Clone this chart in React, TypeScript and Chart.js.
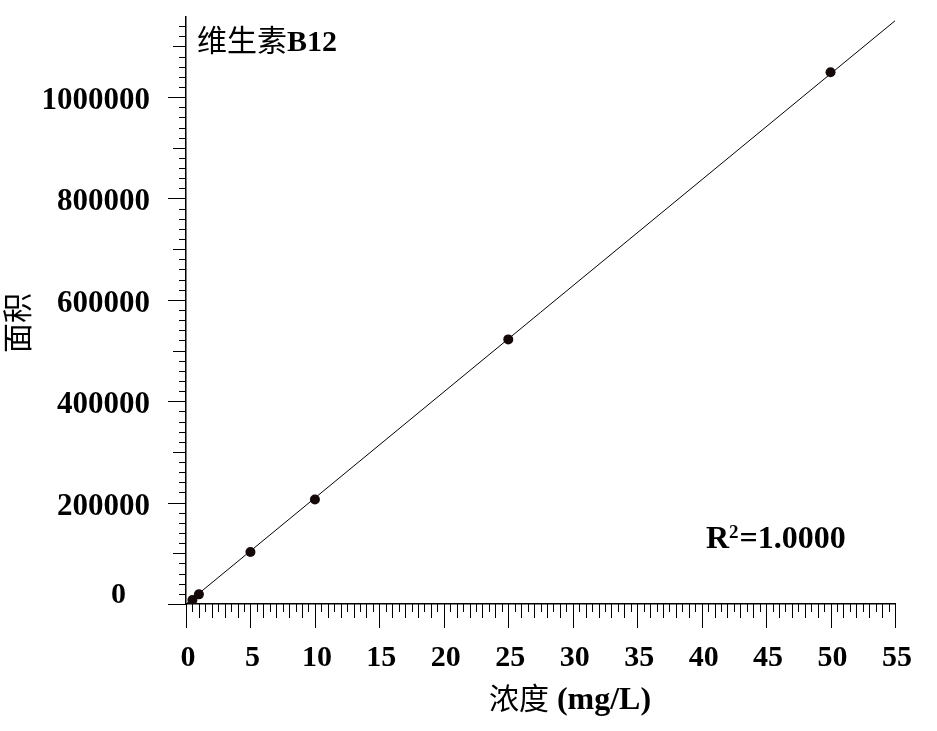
import React, { useEffect, useRef } from "react";
import { Chart, registerables } from "chart.js";

Chart.register(...registerables);

// ---- data ----
const concentrations = [0.5, 1, 5, 10, 25, 50];
const areas = [8000, 19000, 102600, 206000, 522000, 1049000];
const fitX = [0, 55];
const fitY = [0, 1150500];
const xTickValues = [0, 5, 10, 15, 20, 25, 30, 35, 40, 45, 50, 55];
const yTickValues = [0, 200000, 400000, 600000, 800000, 1000000];
const X_MIN = 0;
const X_MAX = 55;
const Y_MIN = 0;
const Y_MAX = 1158000;
const X_MINOR_STEP = 0.5;
const Y_MINOR_STEP = 20000;
const TITLE_CJK = "维生素";
const TITLE_LATIN = "B12";
const X_TITLE_CJK = "浓度";
const X_TITLE_LATIN = " (mg/L)";
const Y_TITLE = "面积";
const R2_TEXT = "=1.0000";

const SERIF = "'Liberation Serif', 'Times New Roman', serif";
const CJK = "'Noto Sans CJK SC', sans-serif";

const decorPlugin = {
  id: "decor",
  afterDraw(chart: any) {
    const ctx: CanvasRenderingContext2D = chart.ctx;
    const xs = chart.scales.x;
    const ys = chart.scales.y;
    const area = chart.chartArea;
    ctx.save();
    ctx.strokeStyle = "#000";
    ctx.lineWidth = 1;

    // x ticks (outward, below axis)
    const nx = Math.round((X_MAX - X_MIN) / X_MINOR_STEP);
    for (let i = 0; i <= nx; i++) {
      const v = X_MIN + i * X_MINOR_STEP;
      const px = Math.round(xs.getPixelForValue(v)) + 0.5;
      const len = v % 5 === 0 ? 24 : Number.isInteger(v) ? 14 : 8;
      ctx.beginPath();
      ctx.moveTo(px, area.bottom);
      ctx.lineTo(px, area.bottom + len);
      ctx.stroke();
    }
    // y ticks (outward, left of axis)
    for (let v = Y_MIN; v <= Y_MAX; v += Y_MINOR_STEP) {
      const py = Math.round(ys.getPixelForValue(v)) + 0.5;
      const len = v % 200000 === 0 ? 18 : v % 100000 === 0 ? 13 : 7;
      ctx.beginPath();
      ctx.moveTo(area.left, py);
      ctx.lineTo(area.left - len, py);
      ctx.stroke();
    }

    ctx.fillStyle = "#000";
    ctx.textBaseline = "alphabetic";
    ctx.textAlign = "left";

    // zero label of y axis
    ctx.font = `bold 30px ${SERIF}`;
    ctx.textAlign = "right";
    ctx.fillText("0", 126, ys.getPixelForValue(0) - 1);
    ctx.textAlign = "left";

    // title inside plot
    ctx.font = `30px ${CJK}`;
    let x0 = area.left + 11;
    ctx.fillText(TITLE_CJK, x0, 51);
    x0 += ctx.measureText(TITLE_CJK).width;
    ctx.font = `bold 30px ${SERIF}`;
    ctx.fillText(TITLE_LATIN, x0, 51);

    // R^2
    let rx = 706;
    const rb = 548;
    ctx.font = `bold 32px ${SERIF}`;
    ctx.fillText("R", rx, rb);
    rx += ctx.measureText("R").width;
    ctx.font = `bold 19px ${SERIF}`;
    ctx.fillText("2", rx, rb - 10);
    rx += ctx.measureText("2").width + 1;
    ctx.font = `bold 32px ${SERIF}`;
    ctx.fillText(R2_TEXT, rx, rb);

    // x title
    ctx.font = `30px ${CJK}`;
    const w1 = ctx.measureText(X_TITLE_CJK).width;
    ctx.font = `bold 32px ${SERIF}`;
    const w2 = ctx.measureText(X_TITLE_LATIN).width;
    const tx = 570 - (w1 + w2) / 2;
    ctx.font = `30px ${CJK}`;
    ctx.fillText(X_TITLE_CJK, tx, 709);
    ctx.font = `bold 32px ${SERIF}`;
    ctx.fillText(X_TITLE_LATIN, tx + w1, 709);

    // y title
    ctx.translate(17, 323);
    ctx.rotate(-Math.PI / 2);
    ctx.font = `30px ${CJK}`;
    ctx.textAlign = "center";
    ctx.textBaseline = "middle";
    ctx.fillText(Y_TITLE, 0, 0);
    ctx.restore();
  },
};

const zeroPadding = (s: any) => {
  s.paddingTop = 0;
  s.paddingBottom = 0;
  s.paddingLeft = 0;
  s.paddingRight = 0;
};

export default function App() {
  const ref = useRef<HTMLCanvasElement>(null);
  useEffect(() => {
    if (!ref.current) return;
    const chart = new Chart(ref.current, {
      type: "scatter",
      data: {
        datasets: [
          {
            label: "fit",
            data: fitX.map((x, i) => ({ x, y: fitY[i] })),
            showLine: true,
            borderColor: "#000",
            borderWidth: 1,
            pointRadius: 0,
            order: 2,
          },
          {
            label: "points",
            data: concentrations.map((x, i) => ({ x, y: areas[i] })),
            showLine: false,
            pointStyle: "circle",
            pointRadius: 5,
            backgroundColor: "#140808",
            borderColor: "#140808",
            borderWidth: 0,
            order: 1,
          },
        ],
      },
      options: {
        responsive: false,
        devicePixelRatio: 1,
        animation: false,
        layout: { padding: { top: 17, right: 42, left: 0, bottom: 0 } },
        plugins: {
          legend: { display: false },
          tooltip: { enabled: false },
          title: { display: false },
        },
        scales: {
          x: {
            type: "linear",
            position: "bottom",
            min: X_MIN,
            max: X_MAX,
            grid: { display: false, drawTicks: false },
            border: { display: true, color: "#000", width: 1.5 },
            afterBuildTicks: (s: any) => {
              s.ticks = xTickValues.map((v) => ({ value: v }));
            },
            afterFit: (s: any) => {
              s.height = 127;
              zeroPadding(s);
            },
            ticks: {
              color: "#000",
              font: { family: SERIF, size: 30, weight: "bold" },
              padding: 36,
              labelOffset: 2,
              maxRotation: 0,
              autoSkip: false,
              callback: (v: any) => String(v),
            },
          },
          y: {
            type: "linear",
            position: "left",
            min: Y_MIN,
            max: Y_MAX,
            grid: { display: false, drawTicks: false },
            border: { display: true, color: "#000", width: 1.5 },
            afterBuildTicks: (s: any) => {
              s.ticks = yTickValues.map((v) => ({ value: v }));
            },
            afterFit: (s: any) => {
              s.width = 186;
              zeroPadding(s);
            },
            ticks: {
              color: "#000",
              font: { family: SERIF, size: 31, weight: "bold" },
              padding: 36,
              labelOffset: 4,
              autoSkip: false,
              callback: (v: any) => (v === 0 ? "" : String(v)),
            },
          },
        },
      },
      plugins: [decorPlugin],
    } as any);
    return () => chart.destroy();
  }, []);
  return (
    <div style={{ position: "absolute", left: 0, top: 0, width: 937, height: 731, background: "#fff" }}>
      <canvas ref={ref} width={937} height={731} />
    </div>
  );
}
